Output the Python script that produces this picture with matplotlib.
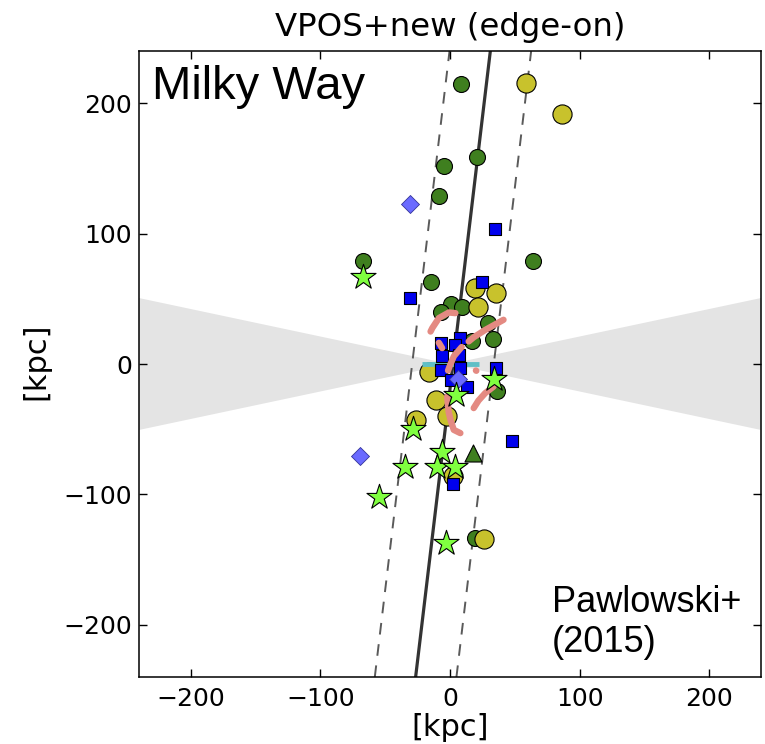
import numpy as np
import matplotlib
matplotlib.use("Agg")
import matplotlib.pyplot as plt

# ---------------- data (kpc) ----------------
green_x = [8.3, 21.1, -4.5, -8.6, 64.3, -66.9, -14.5, 0.4, 9.3, -7.3, 29.0, 32.8, 16.9, 35.9, 19.6]
green_y = [214.6, 158.7, 151.5, 128.5, 78.9, 79.1, 62.5, 45.9, 43.5, 39.5, 31.6, 19.3, 17.8, -20.6, -133.1]

yellow_x = [58.7, 86.5, 19.6, 35.7, 21.5, -16.3, -11.1, -2.2, -26.0, 2.1, 26.5]
yellow_y = [215.4, 191.6, 57.9, 54.8, 43.6, -6.0, -27.5, -39.7, -43.3, -85.7, -134.3]

square_x = [35.1, 24.9, -30.8, -7.3, 8.1, 4.2, -6.1, 6.7, -7.3, 8.1, 0.4, 13.1, 35.7, 48.2, 2.1]
square_y = [103.4, 62.5, 50.5, 16.0, 19.9, 14.7, 5.8, 7.1, -4.4, -3.1, -12.1, -17.3, -3.1, -59.4, -91.9]

diamond_x = [-31.1, 6.2, -69.2]
diamond_y = [122.9, -11.3, -70.6]

triangle_x = [17.7]
triangle_y = [-68.3]

star_x = [-66.9, 33.6, 4.4, -28.5, -6.1, -34.7, -9.9, 3.7, -55.1, -3.0]
star_y = [67.0, -11.6, -24.0, -49.9, -67.1, -78.6, -78.6, -78.6, -101.6, -136.9]

# streams (pink tracks)
streams = [
    ([-15.0, -13.7, -8.6, -0.9, 4.2], [24.9, 27.5, 35.2, 39.5, 39.0]),
    ([14.4, 18.3, 27.0, 41.3], [17.3, 20.5, 26.0, 33.9]),
    ([9.0, 3.0, 0.0, -1.5], [13.0, 6.0, -1.0, -5.0]),
    ([-8.6, -6.1], [16.3, 12.2]),
    ([-2.2, -1.0, 0.4, 2.9, 8.0], [-24.9, -37.0, -42.8, -50.5, -53.0]),
    ([18.3, 22.0, 27.2, 33.6], [-33.8, -28.0, -22.3, -17.3]),
    ([20.0, 20.3], [-5.0, -5.2]),
]

# Milky Way disk (edge-on)
disk_x = [-21.5, 22.0]
disk_y = [0.0, 0.0]

# plane fit: x = offset + tan(tilt) * y ; dashed at +/- half width
plane_tilt_deg = 6.85
plane_offset = 2.3
plane_halfwidth = 31.5

# obscured zone half-opening angle
zoa_halfangle_deg = 11.9

lim = 240
xticks = [-200, -100, 0, 100, 200]
yticks = [-200, -100, 0, 100, 200]

# ---------------- figure ----------------
fig = plt.figure(figsize=(7.65, 7.44), dpi=100)
ax = fig.add_axes([139/765, 67/744, 622/765, 626/744])

# zone of avoidance wedge
t = np.tan(np.radians(zoa_halfangle_deg))
ax.fill([0, -lim, -lim], [0, lim*t, -lim*t], color='#e4e4e4', lw=0, zorder=0)
ax.fill([0, lim, lim], [0, lim*t, -lim*t], color='#e4e4e4', lw=0, zorder=0)

# plane lines
yy = np.array([-lim, lim])
k = np.tan(np.radians(plane_tilt_deg))
ax.plot(plane_offset + k*yy, yy, color='#333333', lw=2.3, zorder=1)
for s in (-1, 1):
    ax.plot(plane_offset + s*plane_halfwidth + k*yy, yy, color='#5a5a5a', lw=1.4,
            dashes=(6, 5), zorder=1)

ec = 'black'
ax.scatter(green_x, green_y, s=132, marker='o', c='#3f7f1f', edgecolors=ec, linewidths=0.8, zorder=3)
ax.scatter(triangle_x, triangle_y, s=150, marker='^', c='#3f7f1f', edgecolors=ec, linewidths=0.8, zorder=3)
ax.scatter(yellow_x, yellow_y, s=190, marker='o', c='#c8c22c', edgecolors=ec, linewidths=0.8, zorder=3)
ax.plot(disk_x, disk_y, color='#5fbfc6', lw=3.5, zorder=4, solid_capstyle='butt')
ax.scatter(square_x, square_y, s=80, marker='s', c='#0000ee', edgecolors=ec, linewidths=0.8, zorder=5)
ax.scatter(diamond_x, diamond_y, s=84, marker='D', c='#6a6aff', edgecolors='#333399', linewidths=0.6, zorder=6)
for sx, sy in streams:
    ax.plot(sx, sy, color='#e48a82', lw=4.6, solid_capstyle='round', solid_joinstyle='round', zorder=6)
ax.scatter(star_x, star_y, s=360, marker='*', c='#80ff40', edgecolors=ec, linewidths=0.8, zorder=7)

ax.set_xlim(-lim, lim)
ax.set_ylim(-lim, lim)
ax.set_xticks(xticks)
ax.set_yticks(yticks)
ax.set_xticklabels([f"\u2212{abs(v)}" if v < 0 else str(v) for v in xticks])
ax.set_yticklabels([f"\u2212{abs(v)}" if v < 0 else str(v) for v in yticks])
ax.tick_params(direction='in', length=6, width=1, labelsize=18, top=True, right=True)
ax.tick_params(axis='x', pad=7)
ax.tick_params(axis='y', pad=5)
for sp in ax.spines.values():
    sp.set_linewidth(1.1)

ax.set_title("VPOS+new (edge-on)", fontsize=23.3, pad=11)
ax.set_xlabel("[kpc]", fontsize=22)
ax.set_ylabel("[kpc]", fontsize=22)
ax.xaxis.set_label_coords(0.5, -0.058)
ax.yaxis.set_label_coords(-0.142, 0.505)

ax.text(151.7/765, 1 - 99/744, "Milky Way", transform=fig.transFigure,
        fontsize=34, family='Liberation Sans', ha='left', va='baseline', zorder=10)
ax.text(552/765, 1 - 611.7/744, "Pawlowski+", transform=fig.transFigure,
        fontsize=26, family='Liberation Sans', ha='left', va='baseline', zorder=10)
ax.text(552/765, 1 - 651.7/744, "(2015)", transform=fig.transFigure,
        fontsize=26, family='Liberation Sans', ha='left', va='baseline', zorder=10)

fig.savefig("out.png", dpi=100)
